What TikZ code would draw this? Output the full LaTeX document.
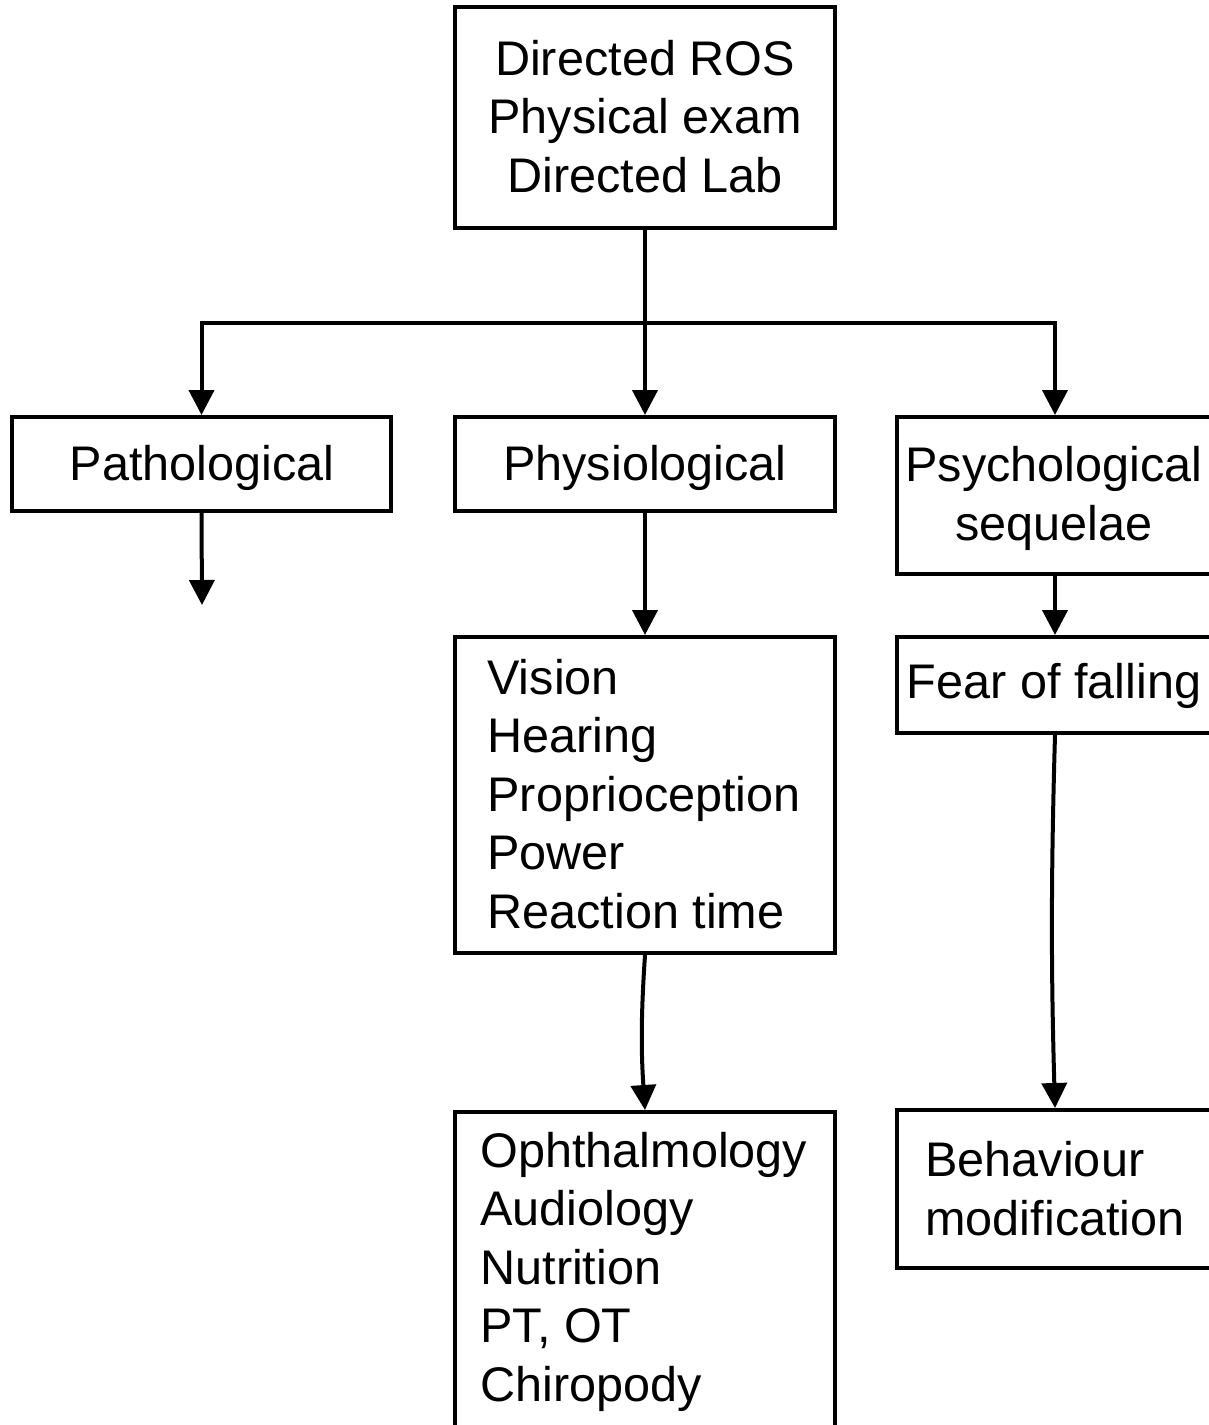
\documentclass[tikz,border=0pt]{standalone}
\usepackage{fontspec}
\setmainfont{Liberation Sans}
\usetikzlibrary{arrows.meta}
\begin{document}
\begin{tikzpicture}[x=0.5pt,y=-0.5pt,
  box/.style={draw, line width=2pt, inner sep=0pt, rectangle},
  txt/.style={inner sep=0pt, font=\fontsize{24.3}{29.25}\selectfont},
  wire/.style={line width=2pt},
  link/.style={line width=2pt, -{Triangle[length=12.5pt,width=12.5pt]}}]
\useasboundingbox (0,0) rectangle (1209,1425);
\clip (0,0) rectangle (1209,1425);

% boxes
\node[box, minimum width=190pt, minimum height=110.5pt] (top) at (645,117.5) {};
\node[box, minimum width=189.5pt, minimum height=47pt] (path) at (201.5,464) {};
\node[box, minimum width=190pt, minimum height=47pt] (phys) at (645,464) {};
\node[box, minimum width=158pt, minimum height=78.5pt] (psych) at (1055,495.5) {};
\node[box, minimum width=158pt, minimum height=48pt] (fear) at (1055,685) {};
\node[box, minimum width=190pt, minimum height=158pt] (vision) at (645,795) {};
\node[box, minimum width=190pt, minimum height=158pt] (oph) at (645,1270) {};
\node[box, minimum width=158pt, minimum height=79pt] (behav) at (1055,1189) {};

% texts (anchored at the baseline of their last line)
\node[txt, align=center, anchor=base] (topT) at (645,192) {Directed ROS\\Physical exam\\Directed Lab};
\node[txt, anchor=base] (pathT) at (202,480) {Pathological};
\node[txt, anchor=base] (physT) at (645,480) {Physiological};
\node[txt, align=center, anchor=base] (psychT) at (1054,540) {Psychological\\sequelae};
\node[txt, anchor=base] (fearT) at (1054,698) {Fear of falling};
\node[txt, align=left, anchor=base west] (visionT) at (487,928) {Vision\\Hearing\\Proprioception\\Power\\Reaction time};
\node[txt, align=left, anchor=base west] (ophT) at (480,1401) {Ophthalmology\\Audiology\\Nutrition\\PT, OT\\Chiropody};
\node[txt, align=left, anchor=base west] (behavT) at (925,1235) {Behaviour\\modification};

% connectors
\coordinate (split) at (645,323);
\coordinate (pathend) at (202,605);
\draw[wire] (top.south) -- (split);
\draw[link] (split) -| (path.north);
\draw[link] (split) -- (phys.north);
\draw[link] (split) -| (psych.north);
\draw[link] (path.south) -- (pathend);
\draw[link] (phys.south) -- (vision.north);
\draw[link] (psych.south) -- (fear.north);
\draw[link] (vision.south) .. controls +(-4,60) and +(-4,-60) .. (oph.north);
\draw[link] (fear.south) .. controls +(-4,140) and +(-4,-140) .. (behav.north);
\end{tikzpicture}
\end{document}
